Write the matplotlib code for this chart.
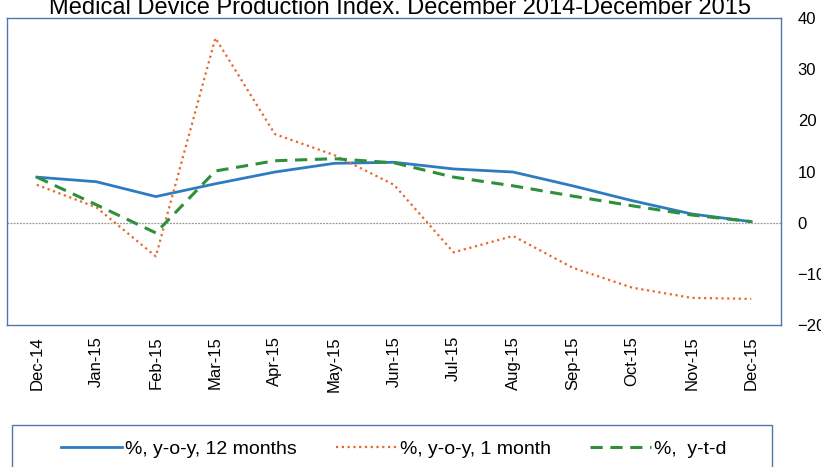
import numpy as np
import matplotlib.pyplot as plt
from matplotlib.patches import Rectangle

plt.rcParams['font.family'] = ['Liberation Sans', 'DejaVu Sans']

months = ['Dec-14', 'Jan-15', 'Feb-15', 'Mar-15', 'Apr-15', 'May-15', 'Jun-15',
          'Jul-15', 'Aug-15', 'Sep-15', 'Oct-15', 'Nov-15', 'Dec-15']
yoy_12m = [8.9, 8.0, 5.1, 7.6, 9.9, 11.6, 11.8, 10.5, 9.9, 7.2, 4.3, 1.7, 0.2]
yoy_1m = [7.4, 3.0, -6.6, 36.1, 17.3, 13.2, 7.4, -5.8, -2.6, -8.8, -12.7, -14.7, -14.9]
ytd = [8.9, 3.5, -2.0, 10.1, 12.1, 12.5, 11.7, 8.9, 7.2, 5.2, 3.3, 1.5, 0.2]

fig = plt.figure(figsize=(8.21, 4.67), dpi=100)
ax = fig.add_axes([7/821, 1 - 325/467, 774/821, 307/467])

x = np.arange(len(months))
l1, = ax.plot(x, yoy_12m, color='#2e7cc0', lw=2.0, label='%, y-o-y, 12 months')
l2, = ax.plot(x, yoy_1m, color='#e8682a', lw=1.6, linestyle=(0, (1, 1.6)), label='%, y-o-y, 1 month')
l3, = ax.plot(x, ytd, color='#2f8f3a', lw=2.2, linestyle=(0, (4, 2.5)), label='%,  y-t-d')
ax.axhline(0, color='#999999', lw=0.9, linestyle=(0, (1.5, 1)), zorder=0)

ax.set_xlim(-0.5, 12.5)
ax.set_ylim(-20, 40)
ax.set_xticks(x)
ax.set_xticklabels(months, rotation=90, fontsize=13)
ax.set_yticks([-20, -10, 0, 10, 20, 30, 40])
ax.yaxis.tick_right()
ax.tick_params(length=0, labelsize=12, pad=8)
ax.tick_params(axis='y', pad=12)
for s in ax.spines.values():
    s.set_color('#4f76ad')
    s.set_linewidth(1.0)

fig.text(0.487, 1 - 14/467, 'Medical Device Production Index. December 2014-December 2015',
         ha='center', va='baseline', fontsize=17)

# legend box, bottom cut off by the figure edge
fig.patches.append(Rectangle((12/821, -0.05), 760/821, 0.05 + 42/467, transform=fig.transFigure,
                             fill=False, edgecolor='#4f76ad', lw=1.0))
fig.legend(handles=[l1, l2, l3], loc='center left', bbox_to_anchor=(61/821, 1 - 449/467),
           ncol=3, frameon=False, fontsize=14, handlelength=3.15, handletextpad=0.15,
           columnspacing=2.0, borderpad=0, borderaxespad=0)

fig.savefig('out.png', dpi=100)
